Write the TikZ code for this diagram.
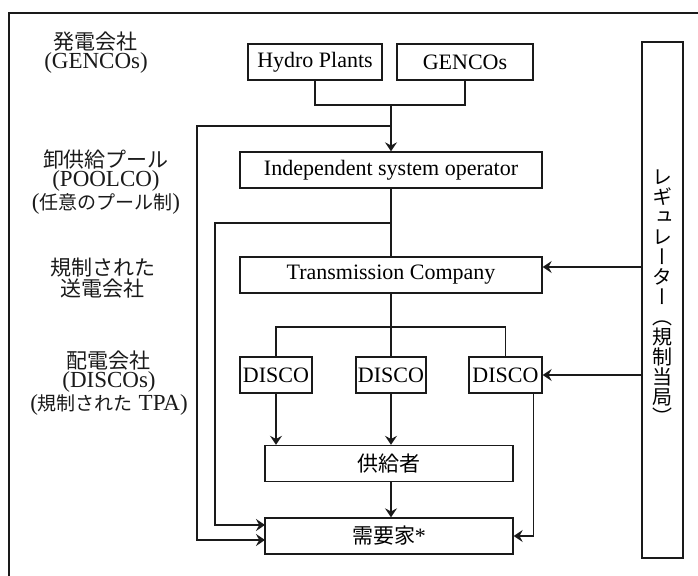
\documentclass[tikz,border=0pt]{standalone}
\usepackage{fontspec}
\setmainfont{Liberation Serif}
\newfontfamily\jp{Noto Sans CJK JP}
\newfontfamily\jpv[RawFeature=+vert]{Noto Sans CJK JP}
\usetikzlibrary{arrows.meta,positioning}
\definecolor{ink}{HTML}{1A1A1A}
\newcommand{\jtxt}[1]{{\jp\fontsize{10.5}{9.5}\selectfont #1}}
\newcommand{\jsm}[1]{{\jp\fontsize{9.5}{9.5}\selectfont #1}}
\tikzset{
  box/.style={draw=ink, line width=0.7pt, fill=white, inner sep=0pt,
              minimum height=18pt, font=\fontsize{11}{11}\selectfont},
  regbox/.style={draw=ink, line width=0.9pt, minimum width=20.5pt,
                 minimum height=258pt, inner sep=0pt},
  ar/.style={-{Stealth[length=4.5pt,width=6pt,inset=1.6pt]}, line width=0.7pt, draw=ink},
  ln/.style={line width=0.7pt, draw=ink},
  lbl/.style={align=center, font=\fontsize{11.5}{9.5}\selectfont, text=ink}
}
\begin{document}
\begin{tikzpicture}[x=0.5pt,y=-0.5pt]
  \useasboundingbox (0,0) rectangle (698,576);
  % frame, cut off at the right and bottom
  \draw[draw=ink, line width=1pt] (9,576) -- (9,13) -- (698,13);

  % row labels
  \node[lbl] (lgen) at (96,53) {\jtxt{発電会社}\\(GENCOs)};
  \node[lbl] (lpool) at (106,182) {\jtxt{卸供給プール}\\(POOLCO)\\(\jsm{任意のプール制})};
  \node[lbl] (ltrans) at (103,278) {\jtxt{規制された}\\\jtxt{送電会社}};
  \node[lbl] (ldist) at (109,383) {\jtxt{配電会社}\\(DISCOs)\\(\jsm{規制された} TPA)};

  % boxes
  \node[box, minimum width=67pt] (hydro) at (315,62) {Hydro Plants};
  \node[box, minimum width=68pt] (gencos) at (465,62) {GENCOs};
  \node[box, minimum width=151pt] (iso) at (391,170) {Independent system operator};
  \node[box, minimum width=151pt] (tc) at (391,275) {Transmission Company};
  \foreach \n/\x/\w in {disco1/276/36pt, disco2/391/35pt, disco3/505.5/36.5pt}
    \node[box, minimum width=\w] (\n) at (\x,375) {DISCO};
  \node[box, minimum width=124pt] (supp) at (389,463.5) {\jtxt{供給者}};
  \node[box, minimum width=124pt] (cons) at (389,536) {\jtxt{需要家}*};
  \node[regbox] (reg) at (662.5,300) {};
  \node[font=\jpv\fontsize{10}{10}\selectfont, align=center, inner sep=0pt] (regtxt)
    at (662.5,297) {レ\\ギ\\ュ\\レ\\ー\\タ\\ー\\（\\規\\制\\当\\局\\）};

  % generation into the operator
  \coordinate (gjoin) at (391,105);
  \draw[ln] (hydro.south) |- (gjoin) -| (gencos.south);
  \draw[ar] (gjoin) -- (iso.north);

  % direct lines to the consumers
  \coordinate (tap1) at (391,126);
  \coordinate (tap2) at (391,223);
  \coordinate (in1) at (265,540);
  \coordinate (in2) at (265,525);
  \draw[ar] (tap1) -- +(-194,0) |- (in1);
  \draw[ar] (tap2) -- +(-176,0) |- (in2);

  % transmission and distribution
  \draw[ln] (iso.south) -- (tc.north);
  \coordinate (bus) at (391,327);
  \draw[ln] (tc.south) -- (disco2.north);
  \draw[ln] (disco1.north) |- (bus) -| (disco3.north);
  \draw[ar] (disco1.south) -- (disco1.south |- supp.north);
  \draw[ar] (disco2.south) -- (disco2.south |- supp.north);
  \draw[ar] (disco2 |- supp.south) -- (disco2 |- cons.north);
  \draw[ar] ([xshift=14pt]disco3.south) |- (cons.east);

  % regulator
  \draw[ar] ([yshift=4pt]reg.west |- tc.east) -- ([yshift=4pt]tc.east);
  \draw[ar] (reg.west |- disco3.east) -- (disco3.east);
\end{tikzpicture}
\end{document}
